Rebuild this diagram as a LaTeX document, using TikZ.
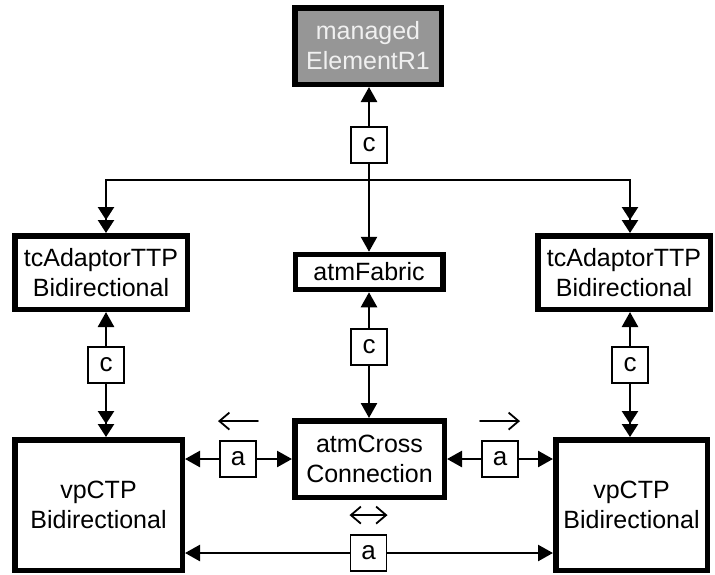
\documentclass[tikz,border=0pt]{standalone}
\usepackage{fontspec}
\setmainfont{Liberation Sans}
\usetikzlibrary{arrows.meta,calc}
\begin{document}
\begin{tikzpicture}[x=1pt,y=-1pt,
  every node/.style={font=\fontsize{25}{30}\selectfont, inner sep=0pt, align=center},
  bigbox/.style={draw, line width=5.5pt, fill=white},
  lblbox/.style={draw, line width=1.8pt, fill=white, minimum width=36pt, minimum height=36pt, font=\fontsize{26}{30}\selectfont},
  wire/.style={line width=2.5pt},
  tip/.tip={Triangle[length=15pt,width=16pt]},
  sgl/.style={wire, -tip},
  dbl/.style={wire, -{Triangle[length=13pt,width=16pt] Triangle[length=13pt,width=16pt]}},
  dirarrow/.style={line width=1.8pt, line cap=round},
  barb/.tip={Straight Barb[length=10pt,width=17pt,line width=1.8pt]}
]
\useasboundingbox (0,0) rectangle (715,574);

% main boxes
\node[bigbox, fill={rgb,255:red,150;green,150;blue,150}, text={rgb,255:red,240;green,240;blue,240},
      minimum width=146.5pt, minimum height=76.5pt] (me) at (368,46) {managed\\ElementR1};
\node[bigbox, minimum width=172.5pt, minimum height=73.5pt] (tcl) at (101,272.5) {tcAdaptorTTP\\Bidirectional};
\node[bigbox, minimum width=172.5pt, minimum height=73.5pt] (tcr) at (624,272.5) {tcAdaptorTTP\\Bidirectional};
\node[bigbox, minimum width=147.5pt, minimum height=35pt] (af) at (369,272) {atmFabric};
\node[bigbox, minimum width=149.5pt, minimum height=76.5pt] (ac) at (369.5,459) {atmCross\\Connection};
\node[bigbox, minimum width=167.5pt, minimum height=130.5pt] (vl) at (98.5,505) {vpCTP\\Bidirectional};
\node[bigbox, minimum width=151.5pt, minimum height=130.5pt] (vr) at (631.5,505) {vpCTP\\Bidirectional};

% label boxes
\node[lblbox] (ct) at (369,145) {c};
\node[lblbox] (cl) at (106,365) {c};
\node[lblbox] (cr) at (630,365) {c};
\node[lblbox] (cm) at (369,347) {c};
\node[lblbox] (al) at (238,459) {a};
\node[lblbox] (ar) at (500,459) {a};
\node[lblbox] (ab) at (368.5,553) {a};

% junction coordinates
\coordinate (j) at (369,180);
\coordinate (jl) at (106,180);
\coordinate (jr) at (630,180);

% top connectors
\draw[sgl] (ct.north) -- (ct.north |- me.south);
\draw[wire] (ct.south) -- (j);
\draw[dbl] (j) -- (jl) -- (jl |- tcl.north);
\draw[dbl] (j) -- (jr) -- (jr |- tcr.north);
\draw[sgl] (j) -- (af.north);

% c connectors
\draw[sgl] (cl.north) -- (cl.north |- tcl.south);
\draw[dbl] (cl.south) -- (cl.south |- vl.north);
\draw[sgl] (cr.north) -- (cr.north |- tcr.south);
\draw[dbl] (cr.south) -- (cr.south |- vr.north);
\draw[sgl] (cm.north) -- (cm.north |- af.south);
\draw[sgl] (cm.south) -- (cm.south |- ac.north);

% a connectors
\draw[sgl] (al.west) -- (al.west -| vl.east);
\draw[sgl] (al.east) -- (al.east -| ac.west);
\draw[sgl] (ar.west) -- (ar.west -| ac.east);
\draw[sgl] (ar.east) -- (ar.east -| vr.west);
\draw[sgl] (ab.west) -- (ab.west -| vl.east);
\draw[sgl] (ab.east) -- (ab.east -| vr.west);

% direction marks
\draw[dirarrow, -barb] ($(al.north)+(20,-19)$) -- ($(al.north)+(-20,-19)$);
\draw[dirarrow, -barb] ($(ar.north)+(-20,-19)$) -- ($(ar.north)+(20,-19)$);
\draw[dirarrow, barb-barb] ($(ab.north)+(-19,-19)$) -- ($(ab.north)+(19,-19)$);
\end{tikzpicture}
\end{document}
